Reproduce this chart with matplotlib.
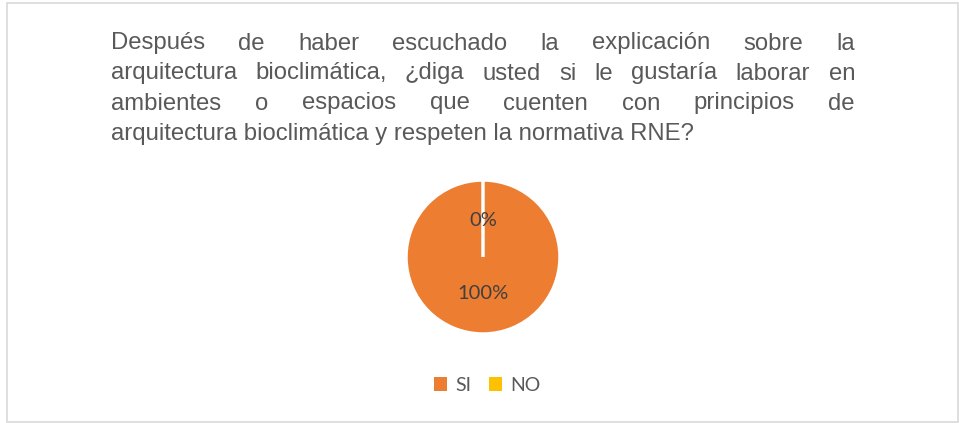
import matplotlib
matplotlib.use('Agg')
import matplotlib.pyplot as plt
from matplotlib.patches import Rectangle

# Data
categories = ['SI', 'NO']
values = [100, 0]
colors = ['#ED7D31', '#FFC000']

title_lines = [
    'Después de haber escuchado la explicación sobre la',
    'arquitectura bioclimática, ¿diga usted si le gustaría laborar en',
    'ambientes o espacios que cuenten con principios de',
    'arquitectura bioclimática y respeten la normativa RNE?',
]

W, H = 959, 423
fig = plt.figure(figsize=(W / 100, H / 100), dpi=100)
fig.patch.set_facecolor('white')

# Chart border
fig.patches.append(Rectangle((6.5 / W, 1 - 421.5 / H), 951 / W, 418.5 / H,
                             transform=fig.transFigure, fill=False,
                             edgecolor='#D9D9D9', linewidth=1.2))

# Justified title, word by word
renderer = fig.canvas.get_renderer()
title_kw = dict(fontsize=17.2, family='Liberation Sans', color='#595959',
                va='baseline', ha='left')
x_left, x_right = 111, 855
baselines = [49.5, 79.5, 109.5, 140.0]
for i, line in enumerate(title_lines):
    words = line.split()
    y = 1 - baselines[i] / H
    if i == len(title_lines) - 1:
        fig.text(x_left / W, y, line, **title_kw)
        continue
    texts = [fig.text(0, y, w, **title_kw) for w in words]
    widths = [t.get_window_extent(renderer).width for t in texts]
    gap = (x_right - x_left - sum(widths)) / (len(words) - 1)
    x = x_left
    for t, w in zip(texts, widths):
        t.set_x(x / W)
        x += w + gap

# Pie
cx, cy, r = 483, 257, 77
ax = fig.add_axes([(cx - r) / W, (H - cy - r) / H, 2 * r / W, 2 * r / H])
wedges, _, autotexts = ax.pie(values, colors=colors, startangle=90,
                              counterclock=False, autopct='%1.0f%%',
                              pctdistance=0.47,
                              wedgeprops=dict(edgecolor='white', linewidth=2.5),
                              textprops=dict(fontsize=14.5, family='Lato',
                                             color='#404040'))
ax.set_xlim(-1, 1)
ax.set_ylim(-1, 1)
ax.axis('off')

# Legend
handles = [Rectangle((0, 0), 1, 1, facecolor=c) for c in colors]
fig.legend(handles, categories, loc='center', bbox_to_anchor=(487 / W, 1 - 385 / H),
           ncol=2, frameon=False, handlelength=0.7, handleheight=0.7,
           handletextpad=0.4, columnspacing=0.9,
           prop=dict(family='Lato', size=14), labelcolor='#595959')

plt.savefig('out.png', dpi=100)
